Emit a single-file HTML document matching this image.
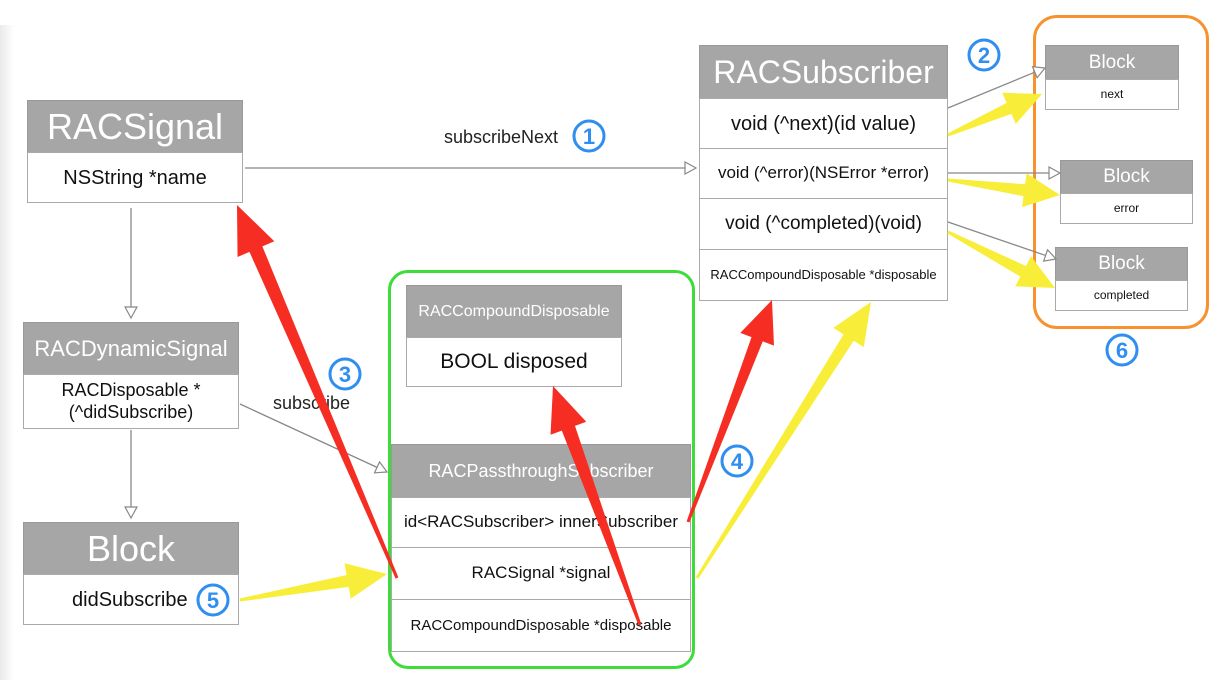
<!DOCTYPE html>
<html><head><meta charset="utf-8"><style>
body{margin:0;width:1228px;height:680px;background:#fff;position:relative;overflow:hidden;font-family:"Liberation Sans",sans-serif;}
.b{position:absolute;box-sizing:border-box;}
.h{background:#a6a6a6;color:#fff;display:flex;align-items:center;justify-content:center;border:1px solid #999;box-sizing:border-box;position:absolute;white-space:nowrap}
.r{background:#fff;color:#111;display:flex;align-items:center;justify-content:center;border:1px solid #aaa;box-sizing:border-box;position:absolute;text-align:center;white-space:nowrap;line-height:1.2}
svg{position:absolute;left:0;top:0}
.t{position:absolute;font-size:18px;color:#222}
</style></head><body>
<div style="position:absolute;left:0;top:25px;width:14px;height:655px;background:linear-gradient(90deg,#eaeaea,#fff)"></div>
<div class="b" style="left:388px;top:270px;width:307px;height:399px;border:3px solid #3ddc3a;border-radius:20px"></div>
<div class="b" style="left:1033px;top:15px;width:176px;height:314px;border:3px solid #f7922f;border-radius:24px"></div>

<div class="h" style="left:27px;top:100px;width:216px;height:53px;font-size:36px">RACSignal</div>
<div class="r" style="left:27px;top:152px;width:216px;height:51px;font-size:20px">NSString *name</div>

<div class="h" style="left:23px;top:322px;width:216px;height:53px;font-size:22px">RACDynamicSignal</div>
<div class="r" style="left:23px;top:374px;width:216px;height:55px;font-size:18px">RACDisposable *<br>(^didSubscribe)</div>

<div class="h" style="left:23px;top:522px;width:216px;height:53px;font-size:36px">Block</div>
<div class="r" style="left:23px;top:574px;width:216px;height:51px;font-size:20px;justify-content:flex-start;padding-left:48px">didSubscribe</div>

<div class="h" style="left:406px;top:285px;width:216px;height:53px;font-size:16px">RACCompoundDisposable</div>
<div class="r" style="left:406px;top:337px;width:216px;height:50px;font-size:21px">BOOL disposed</div>

<div class="h" style="left:391px;top:444px;width:300px;height:54px;font-size:18px">RACPassthroughSubscriber</div>
<div class="r" style="left:391px;top:497px;width:300px;height:51px;font-size:17px">id&lt;RACSubscriber&gt; innerSubscriber</div>
<div class="r" style="left:391px;top:547px;width:300px;height:53px;font-size:17px">RACSignal *signal</div>
<div class="r" style="left:391px;top:599px;width:300px;height:53px;font-size:15px">RACCompoundDisposable *disposable</div>

<div class="h" style="left:699px;top:45px;width:249px;height:54px;font-size:32px">RACSubscriber</div>
<div class="r" style="left:699px;top:98px;width:249px;height:51px;font-size:20px">void (^next)(id value)</div>
<div class="r" style="left:699px;top:148px;width:249px;height:51px;font-size:17px">void (^error)(NSError *error)</div>
<div class="r" style="left:699px;top:198px;width:249px;height:52px;font-size:19px">void (^completed)(void)</div>
<div class="r" style="left:699px;top:249px;width:249px;height:52px;font-size:13px">RACCompoundDisposable *disposable</div>

<div class="h" style="left:1045px;top:45px;width:134px;height:35px;font-size:19px">Block</div>
<div class="r" style="left:1045px;top:79px;width:134px;height:31px;font-size:12px">next</div>
<div class="h" style="left:1060px;top:160px;width:133px;height:34px;font-size:19px">Block</div>
<div class="r" style="left:1060px;top:193px;width:133px;height:31px;font-size:12px">error</div>
<div class="h" style="left:1055px;top:247px;width:133px;height:34px;font-size:19px">Block</div>
<div class="r" style="left:1055px;top:280px;width:133px;height:31px;font-size:12px">completed</div>

<div class="t" style="left:444px;top:127px">subscribeNext</div>
<div class="t" style="left:273px;top:393px">subscribe</div>

<svg id="s" width="1228" height="680"></svg>
<script>
var s=document.getElementById('s'),NS='http://www.w3.org/2000/svg';
function el(n,a){var e=document.createElementNS(NS,n);for(var k in a)e.setAttribute(k,a[k]);s.appendChild(e);return e;}
function gl(x1,y1,x2,y2){var dx=x2-x1,dy=y2-y1,L=Math.hypot(dx,dy),ux=dx/L,uy=dy/L,px=-uy,py=ux,h=11,w=6;
 var bx=x2-ux*h,by=y2-uy*h;
 el('line',{x1:x1,y1:y1,x2:bx,y2:by,stroke:'#888','stroke-width':1.3});
 el('polygon',{points:[x2,y2,bx+px*w,by+py*w,bx-px*w,by-py*w].join(' '),fill:'#fff',stroke:'#888','stroke-width':1.2});}
function ar(x1,y1,x2,y2,c,t0,t1,hl,hw){var dx=x2-x1,dy=y2-y1,L=Math.hypot(dx,dy),ux=dx/L,uy=dy/L,px=-uy,py=ux;
 var bx=x2-ux*hl,by=y2-uy*hl;
 var p=[x1+px*t0,y1+py*t0,bx+px*t1,by+py*t1,bx+px*hw,by+py*hw,x2,y2,bx-px*hw,by-py*hw,bx-px*t1,by-py*t1,x1-px*t0,y1-py*t0];
 el('polygon',{points:p.join(' '),fill:c});}
gl(245,168,696,168);gl(131,208,131,318);gl(131,430,131,518);gl(240,404,387,472);
gl(948,108,1045,68);gl(948,173,1060,173);gl(948,222,1056,259);
var R='#f52d22',Y='#f8ee3a';
ar(397,578,237,205,R,1.5,7,48,20);
ar(688,522,772,300,R,1.5,6,42,18);
ar(640,625,553,386,R,1.5,7,45,19);
ar(240,600,387,574,Y,1.5,6,40,18);
ar(697,578,871,302,Y,1.5,6,42,18);
ar(948,135,1042,94,Y,1.5,6,36,17);
ar(948,180,1060,195,Y,1.5,6,36,17);
ar(948,232,1055,288,Y,1.5,6,36,17);
[[589,136,'1'],[984,55,'2'],[345,374,'3'],[737,461,'4'],[213,600,'5'],[1122,350,'6']].forEach(function(c){
 el('circle',{cx:c[0],cy:c[1],r:15,fill:'#fff',stroke:'#2f8ef0','stroke-width':3});
 var t=el('text',{x:c[0],y:c[1]+8,'text-anchor':'middle','font-size':22,'font-weight':'bold',fill:'#2f8ef0','font-family':'Liberation Sans, sans-serif'});t.textContent=c[2];});
</script>
</body></html>
